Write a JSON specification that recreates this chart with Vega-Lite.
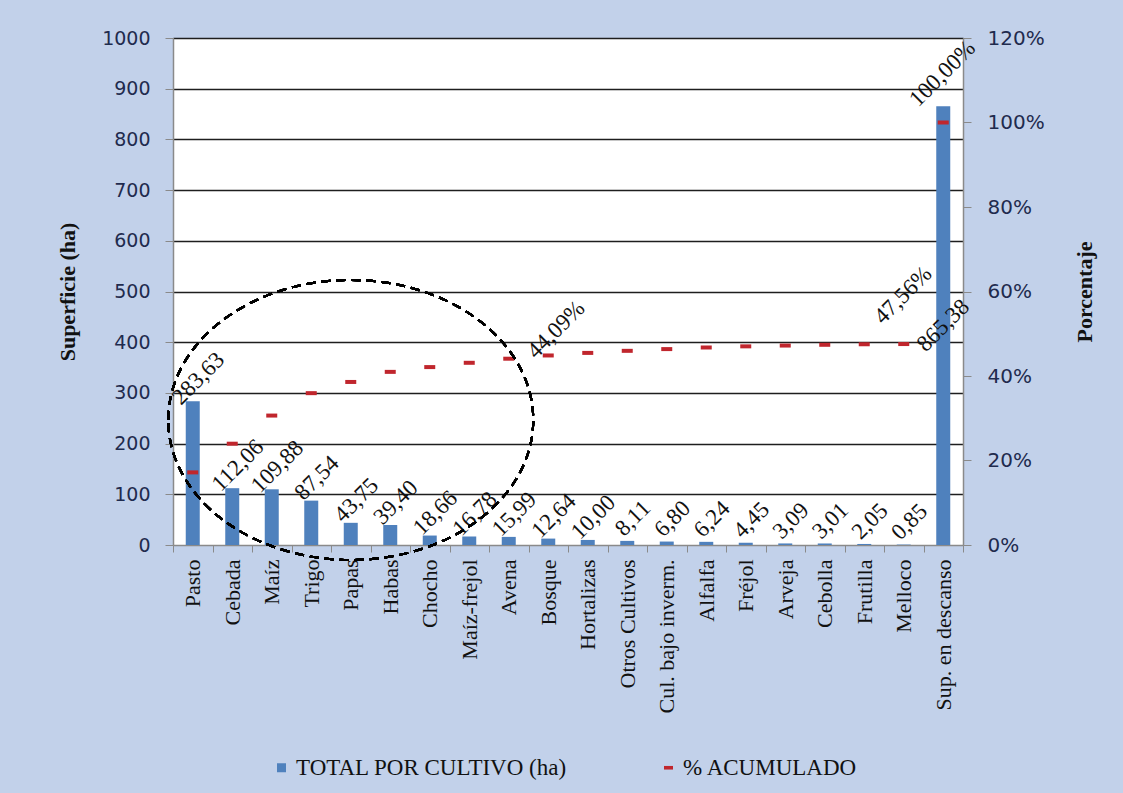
{
  "$schema": "https://vega.github.io/schema/vega-lite/v6.json",
  "width": 790,
  "height": 507,
  "autosize": {"type": "none"},
  "padding": {"left": 173, "top": 38, "right": 160, "bottom": 248},
  "background": "#c2d1ea",
  "config": {
    "locale": {
      "number": {"decimal": ",", "thousands": ".", "grouping": [3], "currency": ["", " $"]}
    },
    "view": {"stroke": null, "fill": "#ffffff"},
    "legend": {"labelFont": "Liberation Serif", "labelFontSize": 23, "labelColor": "#111111", "labelLimit": 0}
  },
  "data": {
    "values": [
      {"cultivo": "Pasto", "superficie": 283.63, "acumulado": 0.17186},
      {"cultivo": "Cebada", "superficie": 112.06, "acumulado": 0.23977},
      {"cultivo": "Maíz", "superficie": 109.88, "acumulado": 0.30635},
      {"cultivo": "Trigo", "superficie": 87.54, "acumulado": 0.35939},
      {"cultivo": "Papas", "superficie": 43.75, "acumulado": 0.38590},
      {"cultivo": "Habas", "superficie": 39.40, "acumulado": 0.40978},
      {"cultivo": "Chocho", "superficie": 18.66, "acumulado": 0.42109},
      {"cultivo": "Maíz-frejol", "superficie": 16.78, "acumulado": 0.43125},
      {"cultivo": "Avena", "superficie": 15.99, "acumulado": 0.44094},
      {"cultivo": "Bosque", "superficie": 12.64, "acumulado": 0.44860},
      {"cultivo": "Hortalizas", "superficie": 10.00, "acumulado": 0.45466},
      {"cultivo": "Otros Cultivos", "superficie": 8.11, "acumulado": 0.45957},
      {"cultivo": "Cul. bajo inverm.", "superficie": 6.80, "acumulado": 0.46369},
      {"cultivo": "Alfalfa", "superficie": 6.24, "acumulado": 0.46747},
      {"cultivo": "Fréjol", "superficie": 4.45, "acumulado": 0.47017},
      {"cultivo": "Arveja", "superficie": 3.09, "acumulado": 0.47204},
      {"cultivo": "Cebolla", "superficie": 3.01, "acumulado": 0.47387},
      {"cultivo": "Frutilla", "superficie": 2.05, "acumulado": 0.47511},
      {"cultivo": "Melloco", "superficie": 0.85, "acumulado": 0.47562},
      {"cultivo": "Sup. en descanso", "superficie": 865.38, "acumulado": 1.0}
    ]
  },
  "encoding": {
    "x": {
      "field": "cultivo",
      "type": "nominal",
      "sort": null,
      "scale": {"paddingInner": 0, "paddingOuter": 0},
      "axis": {
        "title": null,
        "labelAngle": -90,
        "labelFont": "Liberation Serif",
        "labelFontSize": 22,
        "labelColor": "#111111",
        "labelPadding": 7,
        "labelLimit": 0,
        "tickBand": "extent",
        "tickSize": 7,
        "tickColor": "#8a8a8a",
        "domainColor": "#8a8a8a",
        "domainWidth": 1.5,
        "grid": false
      }
    }
  },
  "layer": [
    {
      "encoding": {
        "y": {
          "field": "superficie",
          "type": "quantitative",
          "scale": {"domain": [0, 1000], "nice": false},
          "axis": {
            "title": "Superficie (ha)",
            "values": [0, 100, 200, 300, 400, 500, 600, 700, 800, 900, 1000],
            "format": "d",
            "labelFont": "DejaVu Sans",
            "labelFontSize": 19,
            "labelColor": "#1f2b4e",
            "labelPadding": 15,
            "tickSize": 8,
            "tickColor": "#8a8a8a",
            "domainColor": "#8a8a8a",
            "domainWidth": 1.5,
            "grid": true,
            "gridColor": {"condition": {"test": "datum.value === 0", "value": "transparent"}, "value": "#1e1e1e"},
            "gridWidth": 1.5,
            "titleFont": "Liberation Serif",
            "titleFontSize": 22,
            "titleFontWeight": "bold",
            "titleColor": "#111111",
            "titlePadding": 22
          }
        }
      },
      "layer": [
        {
          "mark": {"type": "bar", "width": 14},
          "encoding": {
            "color": {
              "datum": "TOTAL POR CULTIVO (ha)",
              "scale": {
                "domain": ["TOTAL POR CULTIVO (ha)", "% ACUMULADO"],
                "range": ["#4f81bd", "#c0262d"]
              },
              "legend": {
                "orient": "none",
                "legendX": 97,
                "legendY": 718,
                "direction": "horizontal",
                "title": null,
                "labelFont": "Liberation Serif",
                "labelFontSize": 23,
                "labelColor": "#111111",
                "labelLimit": 0,
                "symbolSize": 81,
                "columnPadding": 90,
                "labelOffset": 3,
                "encode": {
                  "symbols": {
                    "update": {
                      "shape": {"signal": "datum.value === '% ACUMULADO' ? 'M -1 -0.4 H 1 V 0.4 H -1 Z' : 'square'"},
                      "fill": {"signal": "datum.value === '% ACUMULADO' ? '#c0262d' : '#4f81bd'"},
                      "stroke": {"value": "transparent"}
                    }
                  },
                  "labels": {
                    "update": {
                      "font": {"value": "Liberation Serif"},
                      "fontSize": {"value": 23},
                      "fill": {"value": "#111111"}
                    }
                  }
                }
              }
            }
          }
        },
        {
          "transform": [{"filter": "datum.cultivo !== 'Sup. en descanso'"}],
          "mark": {
            "type": "text",
            "font": "Liberation Serif",
            "fontSize": 23,
            "color": "#111111",
            "angle": 315,
            "align": "center",
            "baseline": "middle",
            "dx": 20,
            "dy": -12
          },
          "encoding": {"text": {"field": "superficie", "type": "quantitative", "format": ".2f"}}
        },
        {
          "transform": [{"filter": "datum.cultivo === 'Sup. en descanso'"}],
          "mark": {
            "type": "text",
            "font": "Liberation Serif",
            "fontSize": 23,
            "color": "#111111",
            "angle": 315,
            "align": "center",
            "baseline": "middle",
            "dx": -155,
            "dy": 155
          },
          "encoding": {"text": {"field": "superficie", "type": "quantitative", "format": ".2f"}}
        }
      ]
    },
    {
      "encoding": {
        "y": {
          "field": "acumulado",
          "type": "quantitative",
          "scale": {"domain": [0, 1.2], "nice": false},
          "axis": {
            "orient": "right",
            "title": "Porcentaje",
            "values": [0, 0.2, 0.4, 0.6, 0.8, 1.0, 1.2],
            "format": ".0%",
            "labelFont": "DejaVu Sans",
            "labelFontSize": 20,
            "labelColor": "#1f2b4e",
            "labelPadding": 16,
            "tickSize": 8,
            "tickColor": "#8a8a8a",
            "domainColor": "#8a8a8a",
            "domainWidth": 1.5,
            "grid": false,
            "titleFont": "Liberation Serif",
            "titleFontSize": 22,
            "titleFontWeight": "bold",
            "titleColor": "#111111",
            "titleAngle": 270,
            "titlePadding": 52
          }
        }
      },
      "layer": [
        {
          "mark": {"type": "tick", "thickness": 4, "size": 11, "orient": "horizontal", "opacity": 1},
          "encoding": {"color": {"datum": "% ACUMULADO"}}
        },
        {
          "transform": [{"filter": "datum.cultivo === 'Avena'"}],
          "mark": {
            "type": "text",
            "font": "Liberation Serif",
            "fontSize": 23,
            "color": "#111111",
            "angle": 315,
            "align": "center",
            "baseline": "middle",
            "dx": 54,
            "dy": 13
          },
          "encoding": {"text": {"field": "acumulado", "type": "quantitative", "format": ".2%"}}
        },
        {
          "transform": [{"filter": "datum.cultivo === 'Melloco' || datum.cultivo === 'Sup. en descanso'"}],
          "mark": {
            "type": "text",
            "font": "Liberation Serif",
            "fontSize": 23,
            "color": "#111111",
            "angle": 315,
            "align": "center",
            "baseline": "middle",
            "dx": 34,
            "dy": -35
          },
          "encoding": {"text": {"field": "acumulado", "type": "quantitative", "format": ".2%"}}
        },
        {
          "mark": {
            "type": "point",
            "shape": "M -1 0 C -1 -0.4236 -0.5523 -0.767 0 -0.767 C 0.5523 -0.767 1 -0.4236 1 0 C 1 0.4236 0.5523 0.767 0 0.767 C -0.5523 0.767 -1 0.4236 -1 0 Z",
            "size": 133225,
            "filled": false,
            "stroke": "#000000",
            "strokeWidth": 2,
            "strokeDash": [9, 6],
            "opacity": 1
          },
          "encoding": {
            "x": {"datum": "Papas"},
            "y": {"datum": 0.296}
          }
        }
      ]
    }
  ],
  "resolve": {"scale": {"y": "independent"}}
}
